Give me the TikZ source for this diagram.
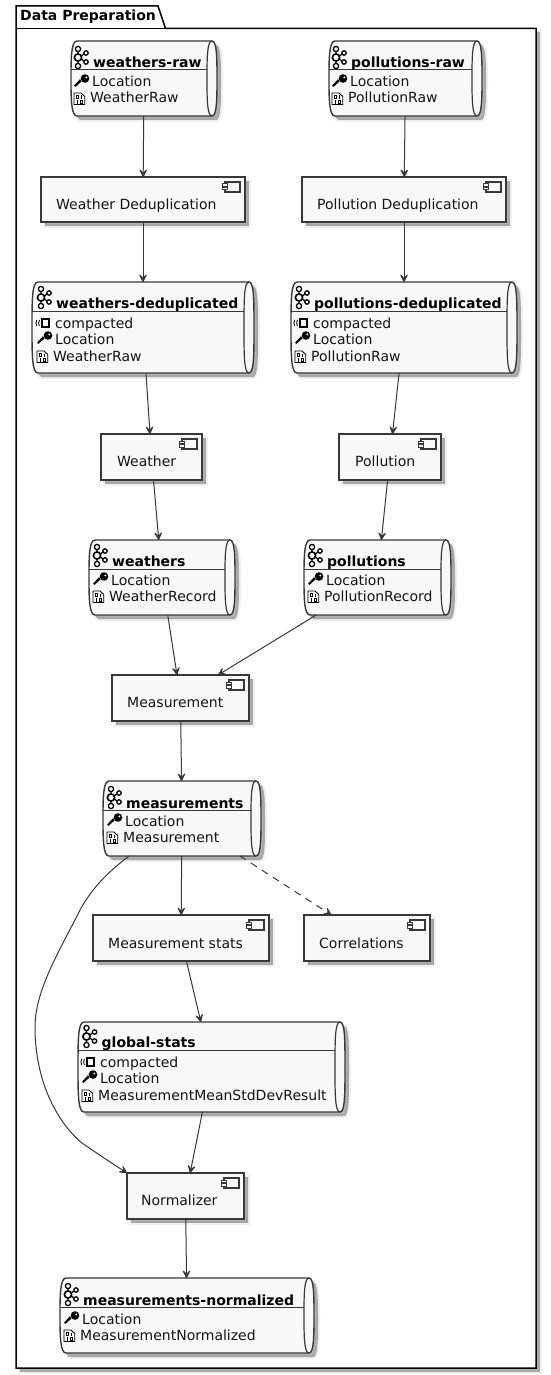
\documentclass[tikz,border=0pt]{standalone}
\usepackage{fontspec}
\setmainfont{DejaVu Sans}
\usetikzlibrary{arrows.meta,calc}
\definecolor{ln}{HTML}{383838}
\definecolor{bx}{HTML}{F8F8F8}
\definecolor{tx}{HTML}{141414}
\tikzset{
  anchorbox/.style={inner sep=0pt,outer sep=0pt,draw=none,rectangle},
  boxline/.style={draw=ln,line width=1.4pt,fill=bx},
  flow/.style={draw=ln,line width=1pt,-{Stealth[length=10pt,width=10pt,inset=5pt,round]}},
  lbl/.style={anchor=base west,inner sep=0pt,font=\fontsize{14}{16}\selectfont,text=tx},
  ttl/.style={anchor=base west,inner sep=0pt,font=\fontsize{14}{16}\selectfont\bfseries,text=black},
}
% soft shadow of the current path, given as #1
\newcommand{\softshadow}[1]{%
  \begin{scope}[shift={(4,4)}]
    \fill[black,opacity=.10,line width=4pt,draw=black,draw opacity=.06] #1;
    \fill[black,opacity=.22] #1;
  \end{scope}}
\newcommand{\qpath}{}
% queue: id x1 y1 x2 y2 divider
\newcommand{\kq}[6]{%
  \pgfmathsetmacro{\qm}{(#3+#5)/2}\pgfmathsetmacro{\qc}{(#2+#4)/2}%
  \pgfmathsetmacro{\qw}{#4-#2}\pgfmathsetmacro{\qh}{#5-#3}%
  \pgfmathsetmacro{\qa}{#2+6}\pgfmathsetmacro{\qb}{#4-5}\pgfmathsetmacro{\qi}{#4-10}%
  \pgfmathsetmacro{\qt}{#3+18}\pgfmathsetmacro{\qu}{#5-18}%
  \edef\qpath{(\qa,#3) -- (\qb,#3) .. controls (#4,#3) and (#4,\qt) .. (#4,\qm) .. controls (#4,\qu) and (#4,#5) .. (\qb,#5) -- (\qa,#5) .. controls (#2,#5) and (#2,\qu) .. (#2,\qm) .. controls (#2,\qt) and (#2,#3) .. (\qa,#3) -- cycle}%
  \softshadow{\qpath}%
  \path[boxline] \qpath;
  \draw[ln,line width=1.2pt] (\qb,#3) .. controls (\qi,#3) and (\qi,\qt) .. (\qi,\qm) .. controls (\qi,\qu) and (\qi,#5) .. (\qb,#5);
  \draw[ln,line width=1pt] (#2,#6) -- (\qi,#6);
  \node[anchorbox,minimum width=\qw pt,minimum height=\qh pt] (#1) at (\qc,\qm) {};
}
% component: id x1 y1 x2 y2 text textx base
\newcommand{\comp}[7]{%
  \pgfmathsetmacro{\qm}{(#3+#5)/2}\pgfmathsetmacro{\qc}{(#2+#4)/2}%
  \pgfmathsetmacro{\qw}{#4-#2}\pgfmathsetmacro{\qh}{#5-#3}%
  \softshadow{(#2,#3) rectangle (#4,#5)}%
  \path[boxline] (#2,#3) rectangle (#4,#5);
  \node[anchorbox,minimum width=\qw pt,minimum height=\qh pt] (#1) at (\qc,\qm) {};
  \node[lbl] (#1-text) at (#7-0,#7) {};
  \begin{scope}[shift={(#4,#3)}]
    \draw[ln,line width=1.2pt,fill=bx] (-20,5) rectangle (-5,15);
    \draw[ln,line width=1pt,fill=bx] (-22.5,7) rectangle (-17.5,9.5) (-22.5,10.5) rectangle (-17.5,13);
  \end{scope}
}
\newcommand{\ktitle}[4]{% id text x base
  \node[ttl] (#1-title) at (#3,#4) {#2};
  \begin{scope}[shift={(#3,#4)},black,line width=1.25pt]
    \draw (-15,-19) circle (2.6) (-15,-2) circle (2.6) (-7,-15) circle (2.2) (-7,-6) circle (2.2);
    \draw[line width=1.6pt] (-15,-10.5) circle (3.6);
    \draw (-15,-16.5) -- (-15,-14) (-15,-7) -- (-15,-4.5) (-11.7,-12) -- (-9,-14) (-11.7,-9) -- (-9,-7);
  \end{scope}
}
\newcommand{\kkey}[4]{% id text x base
  \node[lbl] (#1-key) at (#3,#4) {#2};
  \begin{scope}[shift={(#3,#4)}]
    \fill[black] (-10.5,-5.5) -- (-16.5,-0.2) -- (-18,-1.2) -- (-12,-7.8) -- cycle;
    \fill[black] (-7,-8.5) circle (4.3);
    \fill[bx] (-5.7,-9.6) circle (1.1);
  \end{scope}
}
\newcommand{\kfile}[4]{% id text x base
  \node[lbl] (#1-file) at (#3,#4) {#2};
  \begin{scope}[shift={(#3,#4)}]
    \draw[black,line width=.9pt,fill=white] (-16,1.5) -- (-16,-10) -- (-9,-10) -- (-5.3,-6.5) -- (-5.3,1.5) -- cycle;
    \draw[black,line width=.7pt] (-13.7,-7.5) rectangle (-11.7,-4.2) (-8.2,-7.5) -- (-8.2,-4.2) (-13,-2.6) -- (-13,.6) (-9.5,-2.6) rectangle (-7.5,.6);
  \end{scope}
}
\newcommand{\kcomp}[4]{% id text x base
  \node[lbl] (#1-comp) at (#3,#4) {#2};
  \begin{scope}[shift={(#3,#4)}]
    \draw[black,line width=2pt] (-13,-8.6) rectangle (-6,-1.4);
    \draw[black,line width=.8pt] (-15.6,-8) .. controls (-16.6,-6) and (-16.6,-4) .. (-15.6,-2);
    \draw[black,line width=.8pt] (-18.2,-8) .. controls (-19.4,-6) and (-19.4,-4) .. (-18.2,-2);
  \end{scope}
}
\begin{document}
\begin{tikzpicture}[x=1pt,y=-1pt]
\useasboundingbox (0,0) rectangle (551,1375);
\fill[white] (0,0) rectangle (551,1375);
% package
\softshadow{(16,28.5) rectangle (536,1368)}
\draw[black,line width=1.5pt,fill=white] (16,28.5) -- (16,6) -- (158,6) -- (165.5,28.5) -- (536,28.5) -- (536,1368) -- (16,1368) -- cycle;
\draw[black,line width=1.5pt] (16,28.5) -- (165.5,28.5);
\node[ttl] (pkg) at (20,21) {Data Preparation};

\kq{wraw}{71}{41}{217}{116}{70}
\ktitle{wraw}{weathers-raw}{93}{68}\kkey{wraw}{Location}{92}{87}\kfile{wraw}{WeatherRaw}{90}{103}
\kq{praw}{329}{41}{482}{116}{70}
\ktitle{praw}{pollutions-raw}{351}{68}\kkey{praw}{Location}{350}{87}\kfile{praw}{PollutionRaw}{348}{103}

\comp{wdd}{41}{177}{245}{222}{}{209}\node[lbl] (wdd-t) at (56,209) {Weather Deduplication};
\comp{pdd}{302}{177}{506}{222}{}{209}\node[lbl] (pdd-t) at (317,209) {Pollution Deduplication};

\kq{wded}{32}{282}{254}{373}{311}
\ktitle{wded}{weathers-deduplicated}{56}{308}\kcomp{wded}{compacted}{55}{328}\kkey{wded}{Location}{55}{344}\kfile{wded}{WeatherRaw}{53}{361}
\kq{pded}{291}{282}{517}{373}{311}
\ktitle{pded}{pollutions-deduplicated}{314}{308}\kcomp{pded}{compacted}{313}{328}\kkey{pded}{Location}{313}{344}\kfile{pded}{PollutionRaw}{311}{361}

\comp{wea}{101}{434}{202}{480}{}{466}\node[lbl] (wea-t) at (117,466) {Weather};
\comp{pol}{339}{434}{441}{480}{}{466}\node[lbl] (pol-t) at (355,466) {Pollution};

\kq{ws}{89}{540}{235}{615}{569}
\ktitle{ws}{weathers}{112}{566}\kkey{ws}{Location}{111}{585}\kfile{ws}{WeatherRecord}{109}{601}
\kq{ps}{304}{540}{451}{615}{569}
\ktitle{ps}{pollutions}{327}{566}\kkey{ps}{Location}{326}{585}\kfile{ps}{PollutionRecord}{324}{601}

\comp{mea}{112}{675}{249}{721}{}{707}\node[lbl] (mea-t) at (127,707) {Measurement};

\kq{ms}{103}{781}{261}{856}{810}
\ktitle{ms}{measurements}{126}{808}\kkey{ms}{Location}{125}{826}\kfile{ms}{Measurement}{123}{842}

\comp{mst}{93}{915}{269}{961}{}{948}\node[lbl] (mst-t) at (108,948) {Measurement stats};
\comp{cor}{304}{915}{430}{961}{}{948}\node[lbl] (cor-t) at (319,948) {Correlations};

\kq{gs}{78}{1022}{345}{1112}{1050}
\ktitle{gs}{global-stats}{101.5}{1047}\kcomp{gs}{compacted}{100}{1067}\kkey{gs}{Location}{100}{1083}\kfile{gs}{MeasurementMeanStdDevResult}{98}{1100}

\comp{nor}{127}{1173}{244}{1219}{}{1205}\node[lbl] (nor-t) at (141,1205) {Normalizer};

\kq{mn}{60}{1278}{314}{1353}{1307}
\ktitle{mn}{measurements-normalized}{83}{1305}\kkey{mn}{Location}{82}{1324}\kfile{mn}{MeasurementNormalized}{80}{1340}

% connectors
\draw[flow] (wraw) -- (wdd);
\draw[flow] (praw) -- (pdd);
\draw[flow] (wdd) -- (wded);
\draw[flow] (pdd) -- (pded);
\draw[flow] (wded) -- (wea);
\draw[flow] (pded) -- (pol);
\draw[flow] (wea) -- (ws);
\draw[flow] (pol) -- (ps);
\draw[flow] (ws) -- (mea);
\draw[flow] (ps) -- (mea);
\draw[flow] (mea) -- (ms);
\draw[flow] (ms) -- (mst);
\draw[flow,dash pattern=on 7pt off 6pt] (ms) -- (cor);
\draw[flow] (mst) -- (gs);
\draw[flow] (gs) -- (nor);
\draw[flow] (nor) -- (mn);
\draw[flow] ($(ms.south west)+(26,0)$) .. controls (108,872) and (92,888) .. (80,910) .. controls (60,950) and (35,990) .. (35,1027) .. controls (35,1085) and (60,1125) .. (82,1143) .. controls (95,1152) and (110,1162) .. (nor.north west);
\end{tikzpicture}
\end{document}
